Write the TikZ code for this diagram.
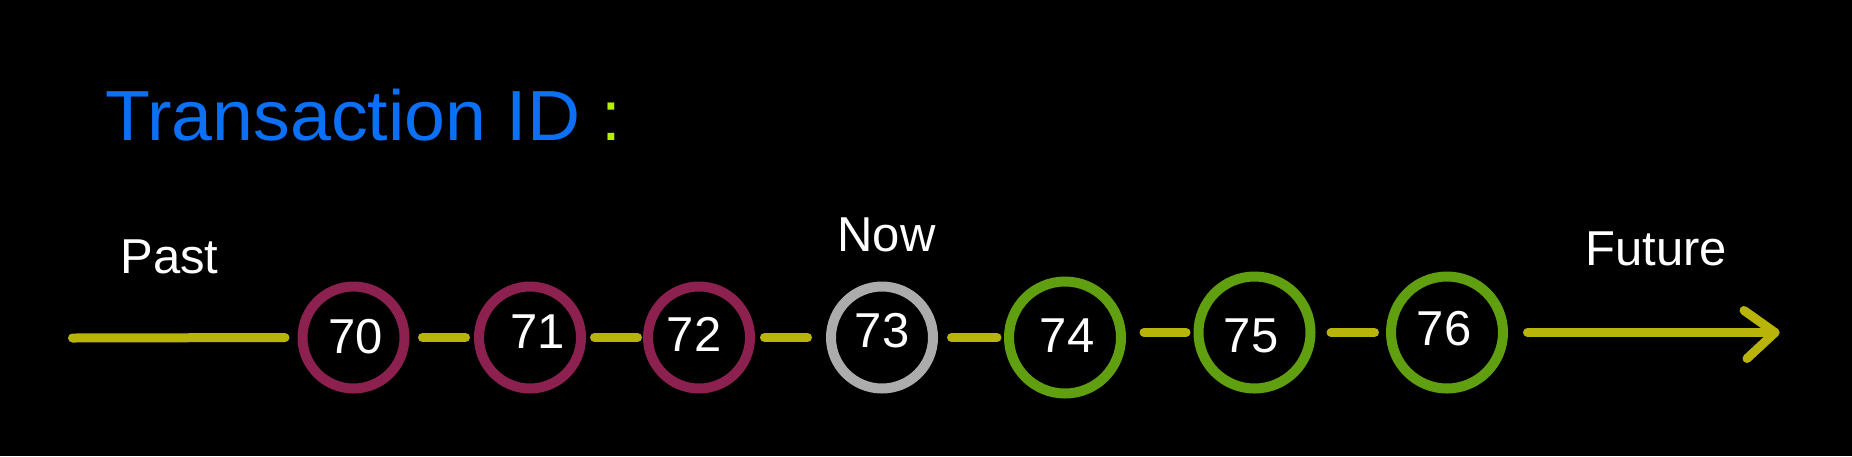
\documentclass[tikz,border=0pt]{standalone}
\usepackage{fontspec}
\setmainfont{Liberation Sans}
\definecolor{lineyellow}{RGB}{184,180,10}
\definecolor{ringred}{RGB}{140,32,78}
\definecolor{ringgray}{RGB}{172,172,172}
\definecolor{ringgreen}{RGB}{96,160,16}
\definecolor{titleblue}{RGB}{12,112,245}
\definecolor{colongreen}{RGB}{182,240,0}
\begin{document}
\begin{tikzpicture}[x=1pt,y=-1pt,
  flow/.style={line width=9pt, draw=lineyellow, line cap=round, line join=round},
  ring/.style={circle, draw=#1, line width=10pt, minimum size=102pt, inner sep=0pt},
  bigring/.style={ring=#1, minimum size=112pt},
  num/.style={font=\fontsize{49}{49}\selectfont, text=white, inner sep=0pt},
  lab/.style={font=\fontsize{49}{49}\selectfont, text=white, inner sep=0pt, anchor=base},
  ttl/.style={font=\fontsize{71}{71}\selectfont, inner sep=0pt, anchor=base west}]
\fill[black] (0,0) rectangle (1852,456);
\useasboundingbox (0,0) rectangle (1852,456);
% title
\node[ttl, text=titleblue] (title) at (105,140) {\scalebox{1.035}[1]{Transaction ID}};
\node[ttl, text=colongreen] (colon) at (601,140) {:};
% labels
\node[lab] (past) at (169.5,273) {Past};
\node[lab] (now) at (886.5,251) {Now};
\node[lab] (future) at (1656,265) {Future};
% rings
\node[ring=ringred] (c70) at (353.5,337.5) {};
\node[ring=ringred] (c71) at (530,337.5) {};
\node[ring=ringred] (c72) at (699,337.5) {};
\node[ring=ringgray] (c73) at (882,337.5) {};
\node[bigring=ringgreen] (c74) at (1065,337.5) {};
\node[bigring=ringgreen] (c75) at (1254.5,332.5) {};
\node[bigring=ringgreen] (c76) at (1447,332.5) {};
% numbers
\node[num] (n70) at (355.5,336.5) {70};
\node[num] (n71) at (538,331.5) {71};
\node[num] (n72) at (694,334.5) {72};
\node[num] (n73) at (882,331) {73};
\node[num] (n74) at (1067,335.5) {74};
\node[num] (n75) at (1251,335.5) {75};
\node[num] (n76) at (1444,328.5) {76};
% time line
\coordinate (pstart) at (72.5,338);
\coordinate (fend) at (1775,332.5);
\draw[flow, shorten >=12.5pt] (pstart) -- (c70.west);
\draw[flow, shorten <=13pt, shorten >=8.5pt] (c70.east) -- (c71.west);
\draw[flow, shorten <=8.5pt, shorten >=5.5pt] (c71.east) -- (c72.west);
\draw[flow, shorten <=9.5pt, shorten >=18.5pt] (c72.east) -- (c73.west);
\draw[flow, shorten <=13.5pt, shorten >=7pt] (c73.east) -- (c74.west);
\draw[flow, shorten <=18pt, shorten >=7.5pt] (c74.east |- c75.center) -- (c75.west);
\draw[flow, shorten <=15.5pt, shorten >=11.5pt] (c75.east) -- (c76.west);
\draw[flow, shorten <=19.5pt] (c76.east) -- (fend);
\draw[flow] (fend) +(-31,-22) -- (fend) -- +(-28,26);
\end{tikzpicture}
\end{document}
